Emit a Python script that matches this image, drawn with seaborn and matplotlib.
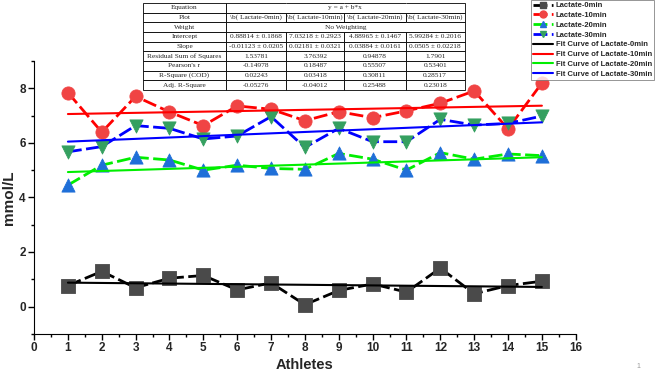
import numpy as np
import pandas as pd
import matplotlib
matplotlib.use("Agg")
import matplotlib.pyplot as plt
from matplotlib.lines import Line2D
from matplotlib.ticker import MultipleLocator
import seaborn as sns

athletes = list(range(1, 16))
lac0 = [0.77, 1.29, 0.69, 1.04, 1.14, 0.61, 0.87, 0.07, 0.59, 0.83, 0.53, 1.41, 0.47, 0.77, 0.93]
lac10 = [7.84, 6.39, 7.70, 7.13, 6.63, 7.35, 7.23, 6.81, 7.14, 6.92, 7.17, 7.45, 7.90, 6.51, 8.19]
lac20 = [4.45, 5.18, 5.47, 5.37, 5.00, 5.18, 5.06, 5.03, 5.61, 5.40, 5.00, 5.64, 5.40, 5.59, 5.53]
lac30 = [5.67, 5.86, 6.63, 6.53, 6.14, 6.25, 6.96, 5.83, 6.53, 6.04, 6.04, 6.86, 6.65, 6.71, 6.98]

names = ["Lactate-0min", "Lactate-10min", "Lactate-20min", "Lactate-30min"]
intercepts = [0.88814, 7.03218, 4.88965, 5.99284]
slopes = [-0.01123, 0.02181, 0.03884, 0.0505]

table_rows = [
    ["Equation", "", "", "", ""],
    ["Plot", "\\b( Lactate-0min)", "\\b( Lactate-10min)", "\\b( Lactate-20min)", "\\b( Lactate-30min)"],
    ["Weight", "", "", "", ""],
    ["Intercept", "0.88814 \u00b1 0.1868", "7.03218 \u00b1 0.2923", "4.88965 \u00b1 0.1467", "5.99284 \u00b1 0.2016"],
    ["Slope", "-0.01123 \u00b1 0.0205", "0.02181 \u00b1 0.0321", "0.03884 \u00b1 0.0161", "0.0505 \u00b1 0.02218"],
    ["Residual Sum of Squares", "1.53781", "3.76392", "0.94878", "1.7901"],
    ["Pearson's r", "-0.14978", "0.18487", "0.55507", "0.53401"],
    ["R-Square (COD)", "0.02243", "0.03418", "0.30811", "0.28517"],
    ["Adj. R-Square", "-0.05276", "-0.04012", "0.25488", "0.23018"],
]
span_text = {0: "y = a + b*x", 2: "No Weighting"}

series = [lac0, lac10, lac20, lac30]
line_colors = ["#000000", "#ff0000", "#00ee00", "#0000ff"]
marker_colors = ["#4a4a4a", "#f04444", "#1f6fd8", "#35a060"]
markers = ["s", "o", "^", "v"]

sns.set_style("white")
plt.rcParams["font.family"] = ["Liberation Sans", "DejaVu Sans"]

fig = plt.figure(figsize=(6.55, 3.76), dpi=100)
ax = fig.add_axes([0.052, 0.112, 0.827, 0.726])

dash = (0, (5, 1.6))
for vals, lc, mc, mk, a, b in zip(series, line_colors, marker_colors, markers, intercepts, slopes):
    df = pd.DataFrame({"x": athletes, "y": vals})
    sns.lineplot(data=df, x="x", y="y", ax=ax, color=lc, lw=2, zorder=2)
    ax.lines[-1].set_linestyle(dash)
    sns.scatterplot(data=df, x="x", y="y", ax=ax, color=mc, marker=mk, s=90,
                    edgecolor=mc, linewidth=0.6, zorder=3)
    fit = pd.DataFrame({"x": athletes, "y": [a + b * x for x in athletes]})
    sns.lineplot(data=fit, x="x", y="y", ax=ax, color=lc, lw=1.5, zorder=4)

ax.set_xlim(0, 16)
ax.set_ylim(-1, 9)
ax.xaxis.set_major_locator(MultipleLocator(1))
ax.xaxis.set_minor_locator(MultipleLocator(0.5))
ax.set_yticks([0, 2, 4, 6, 8])
ax.yaxis.set_minor_locator(MultipleLocator(1))
ax.tick_params(axis="both", which="major", direction="out", length=4, width=1,
               labelsize=8.5, left=True, bottom=True, color="black", pad=2)
ax.tick_params(axis="both", which="minor", direction="out", length=2, width=1,
               left=True, bottom=True, color="black")
for lab in ax.get_xticklabels() + ax.get_yticklabels():
    lab.set_fontweight("bold")
sns.despine(ax=ax)
ax.spines["left"].set_color("black")
ax.spines["bottom"].set_color("black")
ax.set_xlabel("Athletes", fontsize=10.5, fontweight="bold", labelpad=3)
ax.set_ylabel("mmol/L", fontsize=11, fontweight="bold", labelpad=2)

# fit-results table
col_w = [0.153, 0.112, 0.106, 0.114, 0.109]
tx0, ty0, tw, th = 0.201, 0.894, 0.594, 0.318
tbl = ax.table(cellText=table_rows, cellLoc="center", colWidths=col_w,
               bbox=[tx0, ty0, tw, th])
tbl.auto_set_font_size(False)
tbl.set_zorder(6)
for (r, c), cell in tbl.get_celld().items():
    cell.set_linewidth(0.6)
    cell.get_text().set_fontsize(5.3)
    cell.get_text().set_fontfamily("Liberation Serif")
    cell.set_facecolor("white")
    if c == 0:
        cell._loc = "left"
        cell.PAD = 0.03
    if r in span_text and c > 0:
        cell.visible_edges = "TB" + ("L" if c == 1 else "") + ("R" if c == 4 else "")
frac0 = col_w[0] / sum(col_w)
for r, txt in span_text.items():
    ycen = ty0 + th * (1 - (r + 0.5) / len(table_rows))
    ax.text(tx0 + tw * (frac0 + (1 - frac0) / 2), ycen, txt, transform=ax.transAxes,
            ha="center", va="center", fontsize=5.3, fontfamily="Liberation Serif",
            zorder=7, clip_on=False)

handles = []
for lc, mc, mk in zip(line_colors, marker_colors, markers):
    handles.append(Line2D([], [], color=lc, lw=2, linestyle=dash, marker=mk,
                          markerfacecolor=mc, markeredgecolor=mc, markersize=5))
for lc in line_colors:
    handles.append(Line2D([], [], color=lc, lw=1.5))
labels = names + ["Fit Curve of " + n for n in names]
leg = fig.legend(handles, labels, loc="upper right", bbox_to_anchor=(0.998, 1.0),
                 fontsize=5.5, frameon=True, fancybox=False, edgecolor="#666666",
                 handlelength=2.6, handletextpad=0.3, labelspacing=0.32,
                 borderpad=0.25, borderaxespad=0.0)
leg.get_frame().set_linewidth(0.6)
for t in leg.get_texts():
    t.set_fontweight("bold")

fig.text(0.974, 0.024, "1", fontsize=5, color="#999999", ha="center", va="center")

fig.savefig("out.png", dpi=100)
